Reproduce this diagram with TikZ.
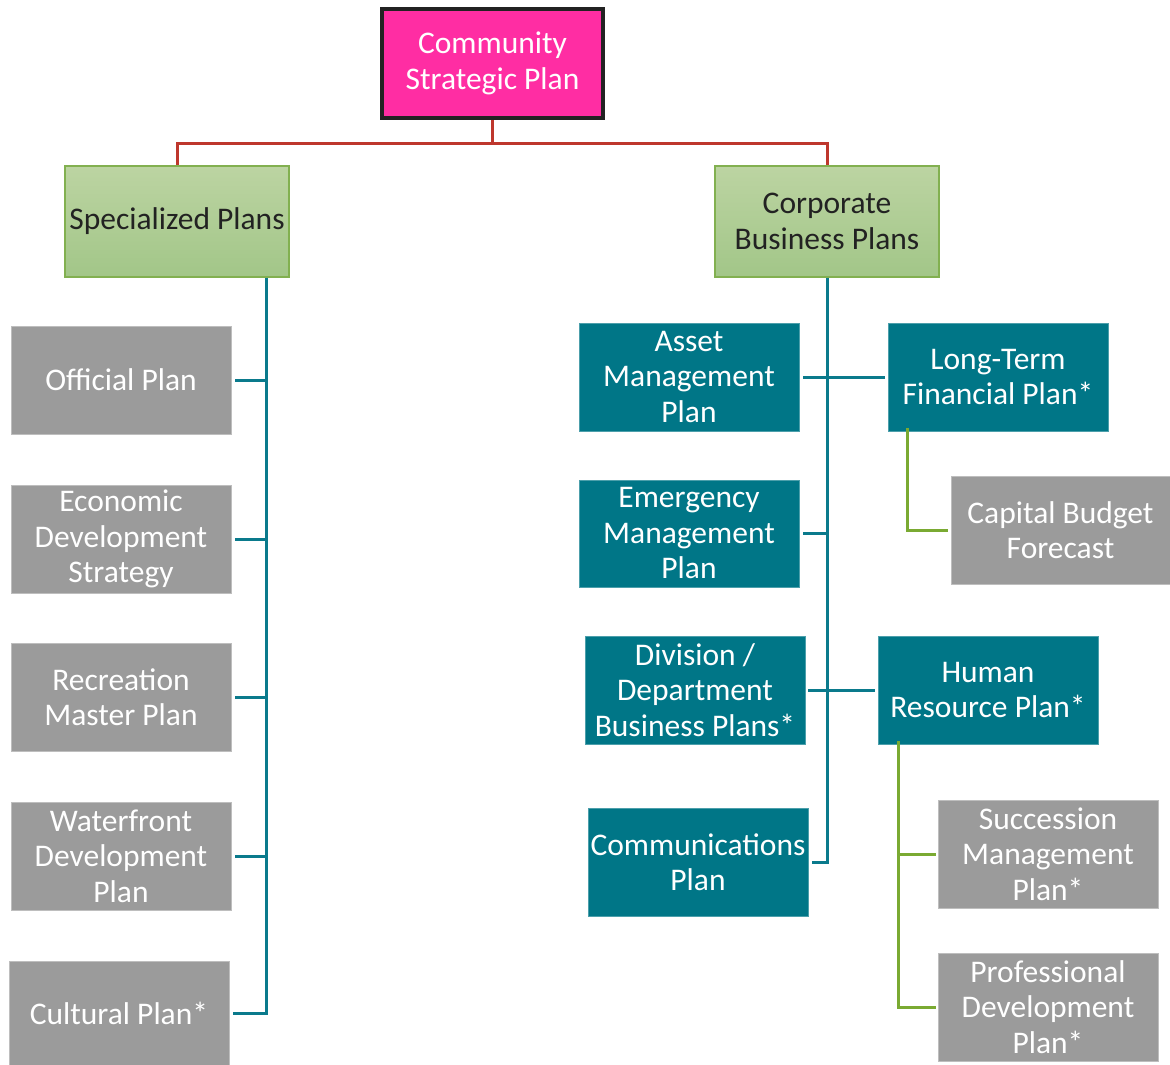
\documentclass[tikz,border=0pt]{standalone}
\usepackage{fontspec}
\setmainfont{Carlito}
\definecolor{pinkc}{RGB}{255,45,163}
\definecolor{tealc}{RGB}{0,118,135}
\definecolor{tealline}{RGB}{10,122,140}
\definecolor{grayc}{RGB}{155,155,155}
\definecolor{grayedge}{RGB}{190,190,190}
\definecolor{greentop}{RGB}{188,212,162}
\definecolor{greenbot}{RGB}{162,198,136}
\definecolor{greenedge}{RGB}{130,176,80}
\definecolor{greenline}{RGB}{122,170,50}
\definecolor{redline}{RGB}{190,55,45}
\definecolor{darktext}{RGB}{34,34,34}
\tikzset{
  base/.style={minimum width=220, minimum height=108, inner sep=0, align=center,
    font=\fontsize{31.5}{35.5}\selectfont},
  graybox/.style={base, fill=grayc, draw=grayedge, line width=0.8, text=white},
  tealbox/.style={base, fill=tealc, draw=tealc!70!white, line width=0.8, text=white},
  greenbox/.style={base, minimum width=224, minimum height=111, top color=greentop,
    bottom color=greenbot, draw=greenedge, line width=1.2, text=darktext},
  tline/.style={draw=tealline, line width=3},
  rline/.style={draw=redline, line width=3},
  gline/.style={draw=greenline, line width=3},
}
\begin{document}
\begin{tikzpicture}[x=1pt,y=-1pt]
\useasboundingbox[fill=white] (0,0) rectangle (1170,1065);
% top
\node[base, minimum width=221, minimum height=109, fill=pinkc, draw={rgb,255:red,34;green,34;blue,34}, line width=4, text=white] (csp) at (492.5,63.5) {Community\\Strategic Plan};
\node[greenbox] (spec) at (177,221.5) {Specialized Plans};
\node[greenbox] (corp) at (827,221.5) {Corporate\\Business Plans};
% left column
\node[graybox] (official) at (121,380) {Official Plan};
\node[graybox] (econ) at (121,539) {Economic\\Development\\Strategy};
\node[graybox] (rec) at (121,697) {Recreation\\Master Plan};
\node[graybox] (water) at (121,856) {Waterfront\\Development\\Plan};
\node[graybox, minimum height=104] (cult) at (119,1013) {Cultural Plan*};
% right
\node[tealbox] (asset) at (689,377) {Asset\\Management\\Plan};
\node[tealbox, minimum height=107] (emerg) at (689,533.5) {Emergency\\Management\\Plan};
\node[tealbox] (div) at (695,690) {Division /\\Department\\Business Plans*};
\node[tealbox] (comm) at (698,862) {Communications\\Plan};
\node[tealbox] (ltfp) at (998,377) {Long-Term\\Financial Plan*};
\node[tealbox] (hrp) at (988,690) {Human\\Resource Plan*};
\node[graybox, minimum width=219] (cbf) at (1060.5,530) {Capital Budget\\Forecast};
\node[graybox] (succ) at (1048,854) {Succession\\Management\\Plan*};
\node[graybox] (prof) at (1048,1007) {Professional\\Development\\Plan*};
% red connectors
\coordinate (redbus) at (492.5,143);
\draw[rline] (csp.south) -- (redbus);
\draw[rline] (redbus) -| (spec.north);
\draw[rline] (redbus) -| (corp.north);
% left teal bus
\coordinate (lbus) at (266,277);
\draw[tline] (spec.south -| lbus) -- (cult.east -| lbus) -- ([xshift=4]cult.east);
\draw[tline] ([xshift=4]official.east) -- (official.east -| lbus);
\draw[tline] ([xshift=4]econ.east) -- (econ.east -| lbus);
\draw[tline] ([xshift=4]rec.east) -- (rec.east -| lbus);
\draw[tline] ([xshift=4]water.east) -- (water.east -| lbus);
% right teal bus
\draw[tline] (corp.south) -- (comm.east -| corp.south) -- ([xshift=4]comm.east);
\draw[tline] ([xshift=4]asset.east) -- ([xshift=-3]ltfp.west);
\draw[tline] ([xshift=4]emerg.east) -- (emerg.east -| corp.south);
\draw[tline] ([xshift=3]div.east) -- ([xshift=-3]hrp.west);
% green connectors
\coordinate (gA) at ([xshift=20,yshift=3]ltfp.south west);
\draw[gline] (gA) -- (cbf.west -| gA) -- ([xshift=-3]cbf.west);
\coordinate (gB) at ([xshift=21,yshift=3]hrp.south west);
\draw[gline] (gB) -- (prof.west -| gB) -- ([xshift=-2]prof.west);
\draw[gline] (succ.west -| gB) -- ([xshift=-2]succ.west);
\end{tikzpicture}
\end{document}
